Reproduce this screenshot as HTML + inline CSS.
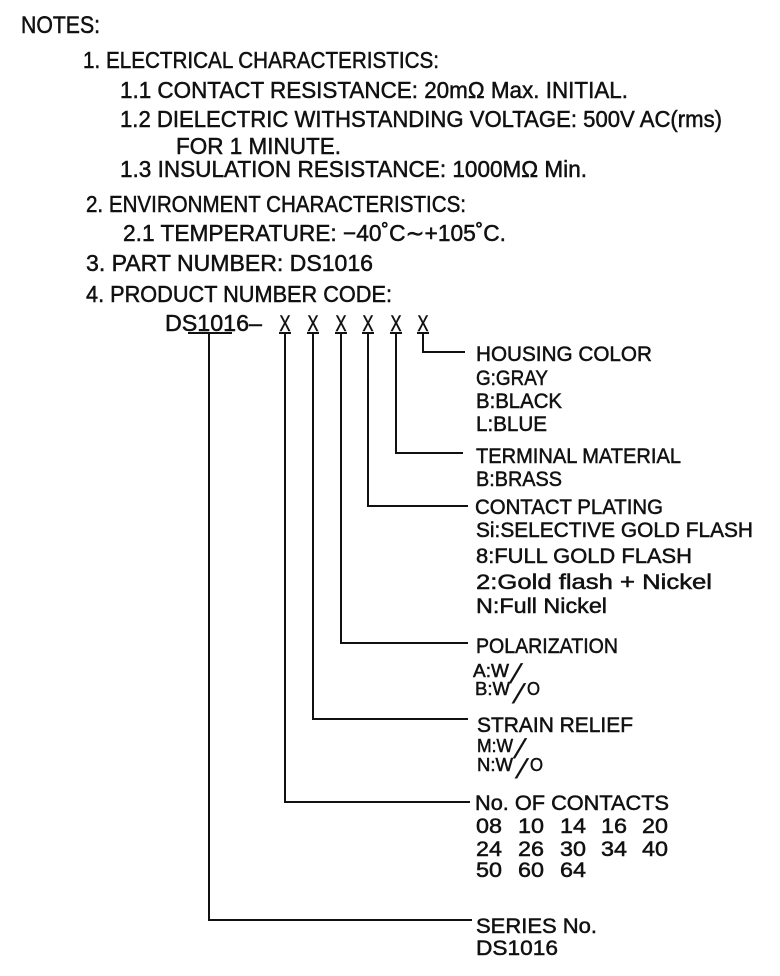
<!DOCTYPE html>
<html>
<head>
<meta charset="utf-8">
<style>
html,body{margin:0;padding:0;background:#fff;}
svg{display:block;}
text{font-family:"Liberation Sans",sans-serif;fill:#111;stroke:#111;stroke-width:0.5px;}
</style>
</head>
<body>
<svg width="780" height="976" viewBox="0 0 780 976" xmlns="http://www.w3.org/2000/svg" xml:space="preserve">
<rect width="780" height="976" fill="#fff"/>
<g font-size="23">
<text x="21" y="33" font-size="24" textLength="79" lengthAdjust="spacingAndGlyphs">NOTES:</text>
<text x="83" y="68" textLength="356" lengthAdjust="spacingAndGlyphs">1.  ELECTRICAL  CHARACTERISTICS:</text>
<text x="120" y="98" textLength="508" lengthAdjust="spacingAndGlyphs">1.1  CONTACT  RESISTANCE:  20mΩ  Max.  INITIAL.</text>
<text x="120" y="127" textLength="602" lengthAdjust="spacingAndGlyphs">1.2  DIELECTRIC  WITHSTANDING  VOLTAGE:  500V  AC(rms)</text>
<text x="176" y="154" textLength="165" lengthAdjust="spacingAndGlyphs">FOR  1  MINUTE.</text>
<text x="120" y="177" textLength="467" lengthAdjust="spacingAndGlyphs">1.3  INSULATION  RESISTANCE:  1000MΩ  Min.</text>
<text x="86" y="212" textLength="380" lengthAdjust="spacingAndGlyphs">2.  ENVIRONMENT  CHARACTERISTICS:</text>
<text x="123" y="241" textLength="383" lengthAdjust="spacingAndGlyphs">2.1  TEMPERATURE:  −40˚C∼+105˚C.</text>
<text x="86" y="271" textLength="287" lengthAdjust="spacingAndGlyphs">3.  PART  NUMBER:  DS1016</text>
<text x="86" y="302" textLength="306" lengthAdjust="spacingAndGlyphs">4.  PRODUCT  NUMBER  CODE:</text>
<text x="165" y="331" textLength="97" lengthAdjust="spacingAndGlyphs">DS1016–</text>
</g>

<g font-size="22" text-anchor="middle">
<text x="285" y="331" textLength="11" lengthAdjust="spacingAndGlyphs">X</text>
<text x="313" y="331" textLength="11" lengthAdjust="spacingAndGlyphs">X</text>
<text x="341" y="331" textLength="11" lengthAdjust="spacingAndGlyphs">X</text>
<text x="368" y="331" textLength="11" lengthAdjust="spacingAndGlyphs">X</text>
<text x="396" y="331" textLength="11" lengthAdjust="spacingAndGlyphs">X</text>
<text x="423" y="331" textLength="11" lengthAdjust="spacingAndGlyphs">X</text>
</g>

<g stroke="#111" stroke-width="2" fill="none">
<line x1="188" y1="333" x2="232" y2="333"/>
<line x1="279" y1="333" x2="291" y2="333"/>
<line x1="307" y1="333" x2="319" y2="333"/>
<line x1="335" y1="333" x2="347" y2="333"/>
<line x1="362" y1="333" x2="374" y2="333"/>
<line x1="390" y1="333" x2="402" y2="333"/>
<line x1="417" y1="333" x2="429" y2="333"/>
<polyline points="423,333 423,352 465,352"/>
<polyline points="396,333 396,453 463,453"/>
<polyline points="368,333 368,506 468,506"/>
<polyline points="341,333 341,643 468,643"/>
<polyline points="313,333 313,719 468,719"/>
<polyline points="285,333 285,802 470,802"/>
<polyline points="209,333 209,920 472,920"/>
</g>

<g font-size="21">
<text x="476" y="361" textLength="176" lengthAdjust="spacingAndGlyphs">HOUSING  COLOR</text>
<text x="476" y="385" textLength="72" lengthAdjust="spacingAndGlyphs">G:GRAY</text>
<text x="476" y="408" textLength="86" lengthAdjust="spacingAndGlyphs">B:BLACK</text>
<text x="476" y="431" textLength="71" lengthAdjust="spacingAndGlyphs">L:BLUE</text>
<text x="476" y="463" textLength="205" lengthAdjust="spacingAndGlyphs">TERMINAL  MATERIAL</text>
<text x="476" y="486" textLength="86" lengthAdjust="spacingAndGlyphs">B:BRASS</text>
<text x="475" y="514" textLength="188" lengthAdjust="spacingAndGlyphs">CONTACT  PLATING</text>
<text x="476" y="537" textLength="277" lengthAdjust="spacingAndGlyphs">Si:SELECTIVE  GOLD  FLASH</text>
<text x="476" y="563" textLength="216" lengthAdjust="spacingAndGlyphs">8:FULL  GOLD  FLASH</text>
<text x="476" y="589" textLength="236" lengthAdjust="spacingAndGlyphs">2:Gold  flash  +  Nickel</text>
<text x="476" y="613" textLength="131" lengthAdjust="spacingAndGlyphs">N:Full  Nickel</text>
<text x="476" y="653" textLength="142" lengthAdjust="spacingAndGlyphs">POLARIZATION</text>
<text x="477" y="732" textLength="156" lengthAdjust="spacingAndGlyphs">STRAIN  RELIEF</text>
<text x="475" y="810" textLength="194" lengthAdjust="spacingAndGlyphs">No.  OF  CONTACTS</text>

<text x="476" y="833" textLength="26" lengthAdjust="spacingAndGlyphs">08</text>
<text x="518" y="833" textLength="26" lengthAdjust="spacingAndGlyphs">10</text>
<text x="560" y="833" textLength="26" lengthAdjust="spacingAndGlyphs">14</text>
<text x="601" y="833" textLength="26" lengthAdjust="spacingAndGlyphs">16</text>
<text x="642" y="833" textLength="26" lengthAdjust="spacingAndGlyphs">20</text>
<text x="476" y="856" textLength="26" lengthAdjust="spacingAndGlyphs">24</text>
<text x="518" y="856" textLength="26" lengthAdjust="spacingAndGlyphs">26</text>
<text x="560" y="856" textLength="26" lengthAdjust="spacingAndGlyphs">30</text>
<text x="601" y="856" textLength="26" lengthAdjust="spacingAndGlyphs">34</text>
<text x="642" y="856" textLength="26" lengthAdjust="spacingAndGlyphs">40</text>
<text x="476" y="877" textLength="26" lengthAdjust="spacingAndGlyphs">50</text>
<text x="518" y="877" textLength="26" lengthAdjust="spacingAndGlyphs">60</text>
<text x="560" y="877" textLength="26" lengthAdjust="spacingAndGlyphs">64</text>

<text x="476" y="933" textLength="121" lengthAdjust="spacingAndGlyphs">SERIES  No.</text>
<text x="476" y="955" textLength="82" lengthAdjust="spacingAndGlyphs">DS1016</text>
</g>

<g font-size="18">
<text x="473" y="677" textLength="36" lengthAdjust="spacingAndGlyphs">A:W</text>
<text x="475" y="695" textLength="35" lengthAdjust="spacingAndGlyphs">B:W</text>
<text x="527" y="695" textLength="13" lengthAdjust="spacingAndGlyphs">O</text>
<text x="477" y="752" textLength="36" lengthAdjust="spacingAndGlyphs">M:W</text>
<text x="477" y="771" textLength="36" lengthAdjust="spacingAndGlyphs">N:W</text>
<text x="530" y="771" textLength="13" lengthAdjust="spacingAndGlyphs">O</text>
</g>
<g font-size="27">
<text x="509" y="683" transform="translate(509,683) skewX(-18) translate(-509,-683)">/</text>
<text x="512" y="703" transform="translate(512,703) skewX(-18) translate(-512,-703)">/</text>
<text x="513" y="758" transform="translate(513,758) skewX(-18) translate(-513,-758)">/</text>
<text x="515" y="778" transform="translate(515,778) skewX(-18) translate(-515,-778)">/</text>
</g>
</svg>
</body>
</html>
